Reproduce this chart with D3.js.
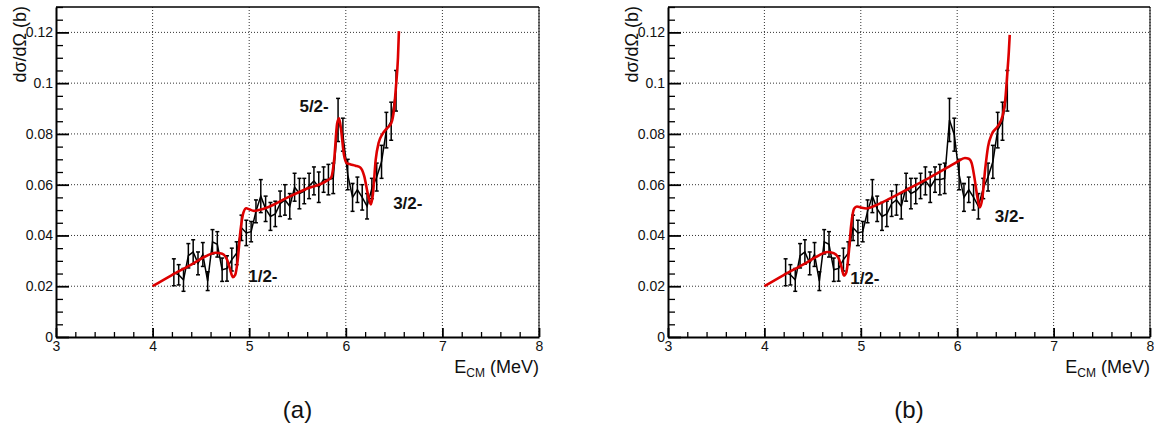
<!DOCTYPE html>
<html>
<head>
<meta charset="utf-8">
<script src="https://cdn.jsdelivr.net/npm/d3@7"></script>
<style>
  body { margin: 0; background: #fff; }
  svg { display: block; }
  text { font-family: "Liberation Sans", Arial, Helvetica, sans-serif; }
</style>
</head>
<body>
<svg id="chart" width="1154" height="433"></svg>
<script>
// ---------- data ----------
const energies = [4.22,4.27,4.32,4.37,4.42,4.47,4.52,4.57,4.62,4.67,4.72,4.77,4.82,4.87,4.92,4.97,5.02,5.07,5.12,5.17,5.22,5.27,5.32,5.37,5.42,5.47,5.52,5.57,5.62,5.67,5.72,5.77,5.82,5.87,5.92,5.97,6.02,6.07,6.12,6.17,6.22,6.27,6.32,6.37,6.42,6.47,6.52];
const crossSection = [0.0255,0.0245,0.0225,0.0320,0.0335,0.0290,0.0325,0.0220,0.0375,0.0365,0.0265,0.0270,0.0305,0.0330,0.0430,0.0410,0.0415,0.0495,0.0555,0.0505,0.0475,0.0485,0.0525,0.0540,0.0515,0.0590,0.0565,0.0575,0.0595,0.0615,0.0590,0.0620,0.0620,0.0625,0.0855,0.0797,0.0640,0.0550,0.0580,0.0550,0.0515,0.0585,0.0630,0.0690,0.0815,0.0850,0.0970];
const crossSectionErr = [0.0053,0.0040,0.0045,0.0048,0.0048,0.0045,0.0047,0.0037,0.0048,0.0050,0.0046,0.0050,0.0045,0.0045,0.0050,0.0050,0.0040,0.0045,0.0065,0.0050,0.0055,0.0050,0.0050,0.0060,0.0050,0.0055,0.0060,0.0050,0.0050,0.0055,0.0060,0.0050,0.0060,0.0060,0.0085,0.0065,0.0060,0.0055,0.0050,0.0050,0.0050,0.0040,0.0055,0.0065,0.0070,0.0075,0.0080];

// R-matrix fit (a): knots
const fitA_E = [4.00,4.20,4.40,4.55,4.65,4.72,4.77,4.80,4.83,4.855,4.88,4.91,4.94,4.97,5.00,5.05,5.10,5.20,5.40,5.60,5.80,5.85,5.88,5.91,5.93,5.95,5.98,6.01,6.05,6.10,6.15,6.19,6.23,6.26,6.28,6.31,6.34,6.38,6.42,6.47,6.50,6.52,6.54,6.55];
const fitA_Y = [0.0200,0.0244,0.0285,0.0318,0.0332,0.0328,0.0305,0.0270,0.0236,0.0245,0.0300,0.0420,0.0490,0.0507,0.0503,0.0497,0.0500,0.0512,0.0550,0.0585,0.0615,0.0630,0.0700,0.0840,0.0862,0.0820,0.0720,0.0685,0.0680,0.0675,0.0668,0.0635,0.0560,0.0522,0.0560,0.0700,0.0765,0.0800,0.0820,0.0842,0.0900,0.0990,0.1100,0.1205];
// R-matrix fit (b)
const fitB_E = [4.00,4.20,4.40,4.55,4.65,4.72,4.77,4.80,4.825,4.85,4.875,4.90,4.93,4.96,5.00,5.06,5.15,5.30,5.50,5.70,5.90,6.00,6.08,6.12,6.15,6.18,6.21,6.235,6.26,6.29,6.32,6.36,6.42,6.47,6.50,6.52,6.535,6.545];
const fitB_Y = [0.0200,0.0244,0.0285,0.0318,0.0335,0.0330,0.0310,0.0275,0.0242,0.0255,0.0330,0.0440,0.0505,0.0514,0.0510,0.0506,0.0518,0.0545,0.0585,0.0625,0.0668,0.0690,0.0705,0.0702,0.0685,0.0625,0.0550,0.0510,0.0545,0.0660,0.0750,0.0800,0.0830,0.0870,0.0940,0.1040,0.1120,0.1190];

const xTicks = [3,4,5,6,7,8];
const xTickLabels = ["3","4","5","6","7","8"];
const yTicks = [0,0.02,0.04,0.06,0.08,0.10,0.12];
const yTickLabels = ["0","0.02","0.04","0.06","0.08","0.1","0.12"];

const labelsA = [{t:"5/2-", e:5.52, v:0.0885}, {t:"3/2-", e:6.49, v:0.0506}, {t:"1/2-", e:4.99, v:0.0218}];
const labelsB = [{t:"1/2-", e:4.89, v:0.0208}, {t:"3/2-", e:6.39, v:0.0455}];

// ---------- drawing ----------
const svg = d3.select("#chart");

function panel(left, right, fitE, fitY, labels, caption) {
  const top = 7, bottom = 337;
  const x = d3.scaleLinear().domain([3, 8]).range([left, right]);
  const y = d3.scaleLinear().domain([0, 0.13]).range([bottom, top]);
  const g = svg.append("g");

  // grid
  g.append("g").selectAll("line").data(xTicks.slice(1)).join("line")
    .attr("x1", d => x(d)).attr("x2", d => x(d)).attr("y1", top).attr("y2", bottom)
    .attr("stroke", "#333").attr("stroke-width", 1).attr("stroke-dasharray", "1,2");
  g.append("g").selectAll("line").data(yTicks.slice(1)).join("line")
    .attr("x1", left).attr("x2", right).attr("y1", d => y(d)).attr("y2", d => y(d))
    .attr("stroke", "#333").attr("stroke-width", 1).attr("stroke-dasharray", "1,2");

  // frame top/right
  g.append("line").attr("x1", left).attr("x2", right).attr("y1", top).attr("y2", top)
    .attr("stroke", "#000").attr("stroke-width", 1.5);
  g.append("line").attr("x1", right).attr("x2", right).attr("y1", top).attr("y2", bottom)
    .attr("stroke", "#000").attr("stroke-width", 1);

  // minor ticks
  const yMinor = d3.range(0, 0.1301, 0.005).filter(v => Math.abs(v / 0.02 - Math.round(v / 0.02)) > 1e-6);
  const xMinor = d3.range(3, 8.0001, 0.2).filter(v => Math.abs(v - Math.round(v)) > 1e-6);
  g.append("g").attr("transform", `translate(${left},0)`)
    .call(d3.axisLeft(y).tickValues(yMinor).tickSize(-7).tickSizeOuter(0).tickFormat(""))
    .call(a => a.select(".domain").remove())
    .call(a => a.selectAll("line").attr("stroke-width", 1.3));
  g.append("g").attr("transform", `translate(0,${bottom})`)
    .call(d3.axisBottom(x).tickValues(xMinor).tickSize(-5).tickSizeOuter(0).tickFormat(""))
    .call(a => a.select(".domain").remove())
    .call(a => a.selectAll("line").attr("stroke-width", 1.3));

  // major axes
  const ya = g.append("g").attr("transform", `translate(${left},0)`)
    .call(d3.axisLeft(y).tickValues(yTicks).tickSize(-13).tickSizeOuter(0).tickPadding(3)
      .tickFormat((d, i) => yTickLabels[i]));
  ya.select(".domain").attr("stroke-width", 2);
  ya.selectAll("line").attr("stroke-width", 1.8);
  ya.selectAll("text").attr("font-size", 14).attr("fill", "#111")
    .attr("font-family", "Liberation Sans, Arial, sans-serif");
  const xa = g.append("g").attr("transform", `translate(0,${bottom})`)
    .call(d3.axisBottom(x).tickValues(xTicks).tickSize(-9).tickSizeOuter(0).tickPadding(4)
      .tickFormat((d, i) => xTickLabels[i]));
  xa.select(".domain").attr("stroke-width", 2);
  xa.selectAll("line").attr("stroke-width", 1.8);
  xa.selectAll("text").attr("font-size", 14).attr("fill", "#111")
    .attr("font-family", "Liberation Sans, Arial, sans-serif");

  // axis titles
  g.append("text")
    .attr("transform", `translate(${left - 30},${top - 1}) rotate(-90)`)
    .attr("text-anchor", "end").attr("font-size", 18).attr("fill", "#111")
    .text("dσ/dΩ (b)");
  const xt = g.append("text").attr("x", right).attr("y", 373)
    .attr("text-anchor", "end").attr("font-size", 18).attr("fill", "#111");
  xt.append("tspan").text("E");
  xt.append("tspan").attr("font-size", 12).attr("dy", 4).text("CM");
  xt.append("tspan").attr("dy", -4).text(" (MeV)");

  // data line
  const pts = energies.map((e, i) => ({e, v: crossSection[i], s: crossSectionErr[i]}));
  g.append("path").datum(pts)
    .attr("d", d3.line().x(d => x(d.e)).y(d => y(d.v)))
    .attr("fill", "none").attr("stroke", "#000").attr("stroke-width", 1.5);
  const eb = g.append("g").attr("stroke", "#000").attr("stroke-width", 1.5);
  eb.selectAll(".v").data(pts).join("line").attr("class", "v")
    .attr("x1", d => x(d.e)).attr("x2", d => x(d.e))
    .attr("y1", d => y(d.v - d.s)).attr("y2", d => y(d.v + d.s));
  eb.selectAll(".c1").data(pts).join("line").attr("class", "c1")
    .attr("x1", d => x(d.e) - 2).attr("x2", d => x(d.e) + 2)
    .attr("y1", d => y(d.v - d.s)).attr("y2", d => y(d.v - d.s));
  eb.selectAll(".c2").data(pts).join("line").attr("class", "c2")
    .attr("x1", d => x(d.e) - 2).attr("x2", d => x(d.e) + 2)
    .attr("y1", d => y(d.v + d.s)).attr("y2", d => y(d.v + d.s));

  // fit curve
  const fit = fitE.map((e, i) => ({e, v: fitY[i]}));
  g.append("path").datum(fit)
    .attr("d", d3.line().x(d => x(d.e)).y(d => y(d.v)).curve(d3.curveMonotoneX))
    .attr("fill", "none").attr("stroke", "#dd0000").attr("stroke-width", 2.6)
    .attr("stroke-linejoin", "round");

  // labels
  g.append("g").selectAll("text").data(labels).join("text")
    .attr("x", d => x(d.e)).attr("y", d => y(d.v))
    .attr("font-size", 17).attr("font-weight", "bold").attr("fill", "#111")
    .text(d => d.t);

  // caption
  g.append("text").attr("x", (left + right) / 2).attr("y", 418)
    .attr("text-anchor", "middle").attr("font-size", 24)
    .attr("font-family", "Liberation Serif, DejaVu Serif, serif").attr("fill", "#111")
    .text(caption);
}

panel(56, 539, fitA_E, fitA_Y, labelsA, "(a)");
panel(668, 1150, fitB_E, fitB_Y, labelsB, "(b)");
</script>
</body>
</html>
